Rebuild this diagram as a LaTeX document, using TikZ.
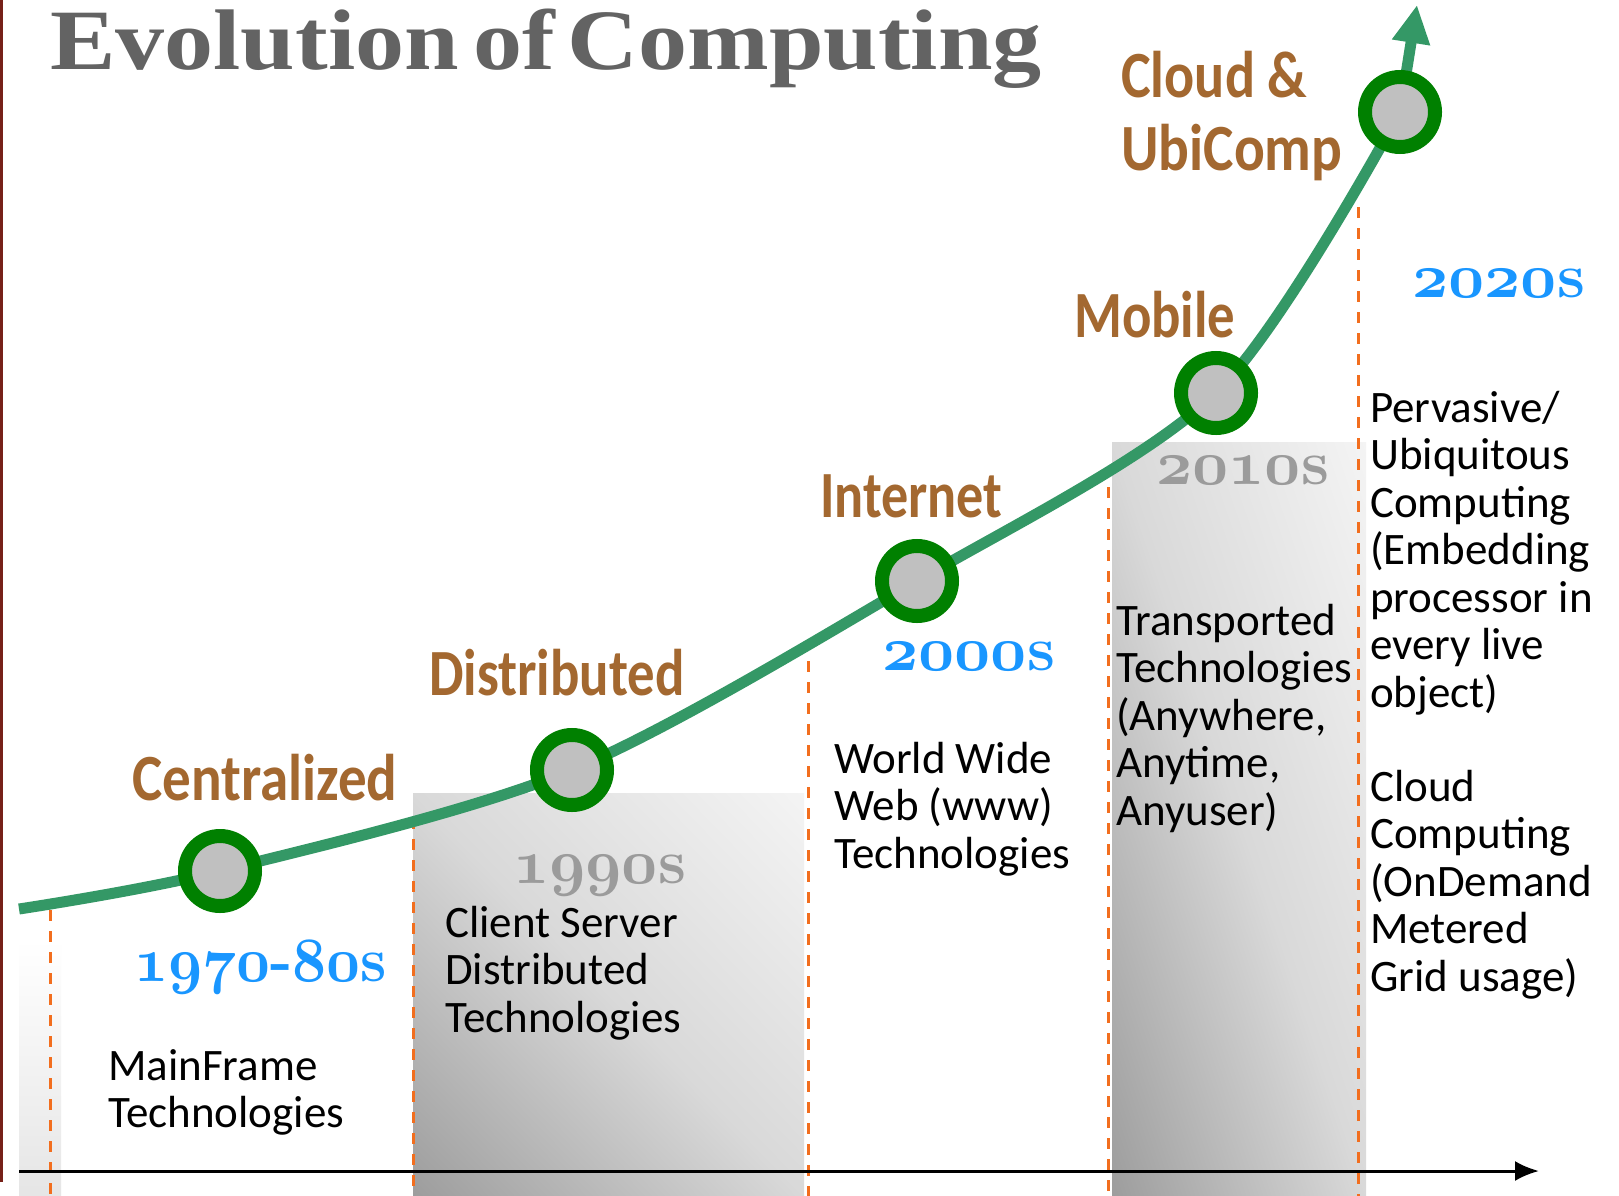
\documentclass[tikz,border=0pt]{standalone}
\usepackage{fontspec}
\usepackage{graphicx}
\usetikzlibrary{arrows.meta}
\newfontfamily\bodyfont{Carlito}
\newfontfamily\titlefont{Liberation Serif}
\newfontfamily\yearfont{Latin Modern Roman}
\DeclareFontFamily{OML}{osdig}{\skewchar\font=127}
\DeclareFontShape{OML}{osdig}{b}{it}{<-> cmmib10}{}
\definecolor{curvegreen}{RGB}{52,152,102}
\definecolor{ringgreen}{RGB}{0,128,0}
\definecolor{dotgray}{RGB}{192,192,192}
\definecolor{lblbrown}{RGB}{163,104,48}
\definecolor{yrblue}{RGB}{25,150,255}
\definecolor{yrgray}{RGB}{155,155,155}
\definecolor{titlegray}{RGB}{99,99,99}
\definecolor{dashorange}{RGB}{242,110,30}
\definecolor{edgemaroon}{RGB}{118,32,24}
\pgfdeclareverticalshading{bandfade}{100bp}{color(0bp)=(black!48); color(50bp)=(black!15); color(100bp)=(white)}
\newcommand\onum[1]{{\usefont{OML}{osdig}{b}{it}#1}}
\newcommand\narrow[2][0.83]{\scalebox{#1}[1]{#2}}
\begin{document}
\begin{tikzpicture}[x=1pt,y=-1pt,
  era/.style={font=\bodyfont\bfseries\fontsize{66}{66}\selectfont,text=lblbrown,inner sep=0pt,anchor=base west},
  yearlbl/.style={font=\yearfont\bfseries\fontsize{63}{63}\selectfont,inner sep=0pt,anchor=base west},
  tech/.style={font=\bodyfont\fontsize{45}{47.5}\selectfont,align=left,inner sep=0pt,anchor=base west},
  stage/.style={circle,draw=ringgreen,fill=dotgray,line width=14pt,minimum size=70pt,inner sep=0pt},
  trend/.style={curvegreen,line width=11pt},
  divider/.style={dashorange,line width=3pt,dash pattern=on 11pt off 10pt},
  band/.style={shading=bandfade,shading angle=-45}]
\fill[white] (0,0) rectangle (1619,1196);
\useasboundingbox (0,0) rectangle (1619,1196);
\fill[edgemaroon] (0,0) rectangle (3,1182);
\shade[top color=white,bottom color=black!10] (19,940) rectangle (61,1196);
\begin{scope}[transform canvas={shift={(413,1196)},xscale=3.91,yscale=4.03}]
  \shade[band] (0,0) rectangle (100,-100);
\end{scope}
\begin{scope}[transform canvas={shift={(1112,1196)},xscale=2.54,yscale=7.54}]
  \shade[band] (0,0) rectangle (100,-100);
\end{scope}
\draw[divider] (50,910) -- (50,1196);
\draw[divider] (413,818) -- (413,1196);
\draw[divider] (808,661) -- (808,1196);
\draw[divider] (1108,466) -- (1108,1196);
\draw[divider] (1358,207) -- (1358,1196);
\coordinate (t0) at (19,1171);
\coordinate (t1) at (1539,1171);
\draw[line width=3pt,-{Latex[length=24pt,width=20pt]}] (t0) -- (t1);
\coordinate (p0) at (19,909);
\coordinate (p1) at (220,871);
\coordinate (p2) at (572,770);
\coordinate (p3) at (917,581);
\coordinate (p4) at (1216,393);
\coordinate (p5) at (1400,112);
\coordinate (tip) at (1417,5);
\draw[trend] plot[smooth] coordinates {(p0) (p1) (p2) (p3) (p4) (p5)};
\draw[trend,-{Triangle[length=38pt,width=36pt]}] (p5) -- (tip);
\node[stage] (c1) at (p1) {};
\node[stage] (c2) at (p2) {};
\node[stage] (c3) at (p3) {};
\node[stage] (c4) at (p4) {};
\node[stage] (c5) at (p5) {};
\node[anchor=base west,inner sep=0pt,text=titlegray,font=\titlefont\bfseries\fontsize{86}{86}\selectfont] (title) at (50,70) {\scalebox{1.14}[1]{Evolution\hspace{13pt}of\hspace{11pt}Computing}};
\node[era] (cent) at (132,800) {\narrow[0.865]{Centralized}};
\node[era] (dist) at (429,695) {\narrow{Distributed}};
\node[era] (inet) at (820,517) {\narrow[0.82]{Internet}};
\node[era] (mob) at (1074,337) {\narrow{Mobile}};
\node[era] (cloud) at (1121,98) {\narrow[0.85]{Cloud \&}};
\node[era] (ubi) at (1121,170) {\narrow[0.87]{UbiComp}};
\node[yearlbl,text=yrblue] (y70) at (134,981) {\narrow[0.94]{\onum{1970}-\onum{80}s}};
\node[yearlbl,text=yrgray] (y90) at (513,883) {\onum{1990}s};
\node[yearlbl,text=yrblue] (y00) at (882,670) {\onum{2000}s};
\node[yearlbl,text=yrgray] (y10) at (1156,484) {\onum{2010}s};
\node[yearlbl,text=yrblue] (y20) at (1412,297) {\onum{2020}s};
\node[tech] (main) at (108,1127.5) {MainFrame\\Technologies};
\node[tech] (cs) at (445,1032) {Client Server\\Distributed\\Technologies};
\node[tech] (www) at (834,868) {World Wide\\Web (www)\\Technologies};
\node[tech] (trans) at (1116,825) {Transported\\Technologies\\(Anywhere,\\Anytime,\\Anyuser)};
\node[tech] (perv) at (1370,707) {Pervasive/\\Ubiquitous\\Computing\\(Embedding\\processor in\\every live\\object)};
\node[tech] (ccomp) at (1370,991) {Cloud\\Computing\\(OnDemand\\Metered\\Grid usage)};
\end{tikzpicture}
\end{document}
